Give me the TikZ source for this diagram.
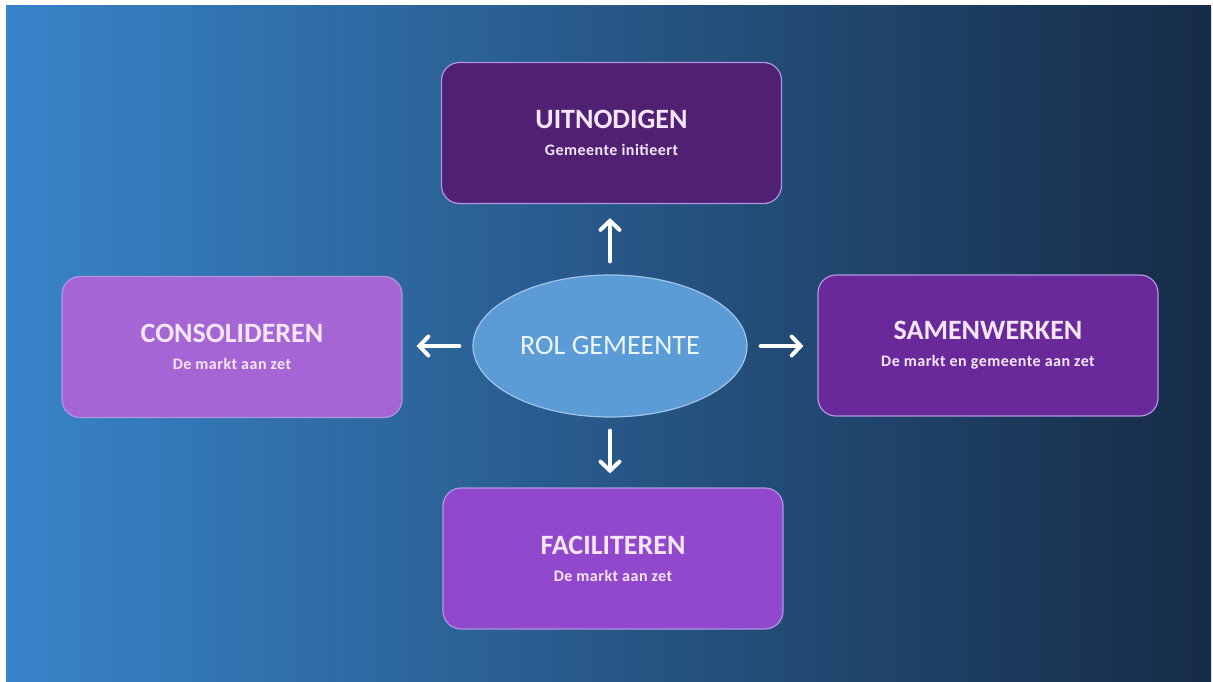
\documentclass[tikz,border=0pt]{standalone}
\usepackage{fontspec}
\setmainfont{Carlito}
\usetikzlibrary{arrows.meta,shapes.geometric}
\definecolor{bgL}{RGB}{56,132,201}
\definecolor{bgR}{RGB}{22,43,70}
\definecolor{boxU}{RGB}{80,32,114}
\definecolor{boxC}{RGB}{166,101,213}
\definecolor{boxS}{RGB}{106,41,155}
\definecolor{boxF}{RGB}{145,72,205}
\definecolor{rim}{RGB}{175,150,225}
\definecolor{ellfill}{RGB}{92,156,214}
\definecolor{ellrim}{RGB}{160,196,232}
\definecolor{txt}{RGB}{246,230,252}
\definecolor{elltxt}{RGB}{236,246,255}
\tikzset{
  rolebox/.style={draw=rim, line width=1.2pt, rounded corners=18pt,
    minimum width=340pt, minimum height=141pt, inner sep=0pt,
    text=txt, align=center, font=\fontsize{16}{27}\selectfont\bfseries},
  centre/.style={ellipse, draw=ellrim, line width=1.2pt, fill=ellfill,
    minimum width=274pt, minimum height=142pt, inner sep=0pt,
    text=elltxt, font=\fontsize{28}{30}\selectfont},
  flow/.style={draw=white, line width=4pt, line cap=round,
    -{Straight Barb[length=9pt,width=19pt,line cap=round]},
    shorten <=13pt, shorten >=14pt},
}
\newcommand{\roletext}[2]{{\fontsize{28}{27}\selectfont #1}\\{\addfontfeature{LetterSpace=3}#2}}
\begin{document}
\begin{tikzpicture}[x=1pt,y=-1pt]
\useasboundingbox (0,0) rectangle (1213,682);
\fill[white] (0,0) rectangle (1213,682);
\shade[left color=bgL, right color=bgR] (6,6) rectangle (1211,681);
\node[rolebox, fill=boxU] (uit) at (611.5,133) {\roletext{UITNODIGEN}{Gemeente initieert}};
\node[rolebox, fill=boxC] (con) at (232,347) {\roletext{CONSOLIDEREN}{De markt aan zet}};
\node[rolebox, fill=boxS] (sam) at (988,345.5) {\roletext{SAMENWERKEN}{De markt en gemeente aan zet}};
\node[rolebox, fill=boxF] (fac) at (613,558.5) {\roletext{FACILITEREN}{De markt aan zet}};
\node[centre] (rol) at (610,346) {ROL GEMEENTE};
\draw[flow] (rol.north) -- (rol.north |- uit.south);
\draw[flow] (rol.west) -- (con.east |- rol.west);
\draw[flow] (rol.east) -- (sam.west |- rol.east);
\draw[flow] (rol.south) -- (rol.south |- fac.north);
\end{tikzpicture}
\end{document}
